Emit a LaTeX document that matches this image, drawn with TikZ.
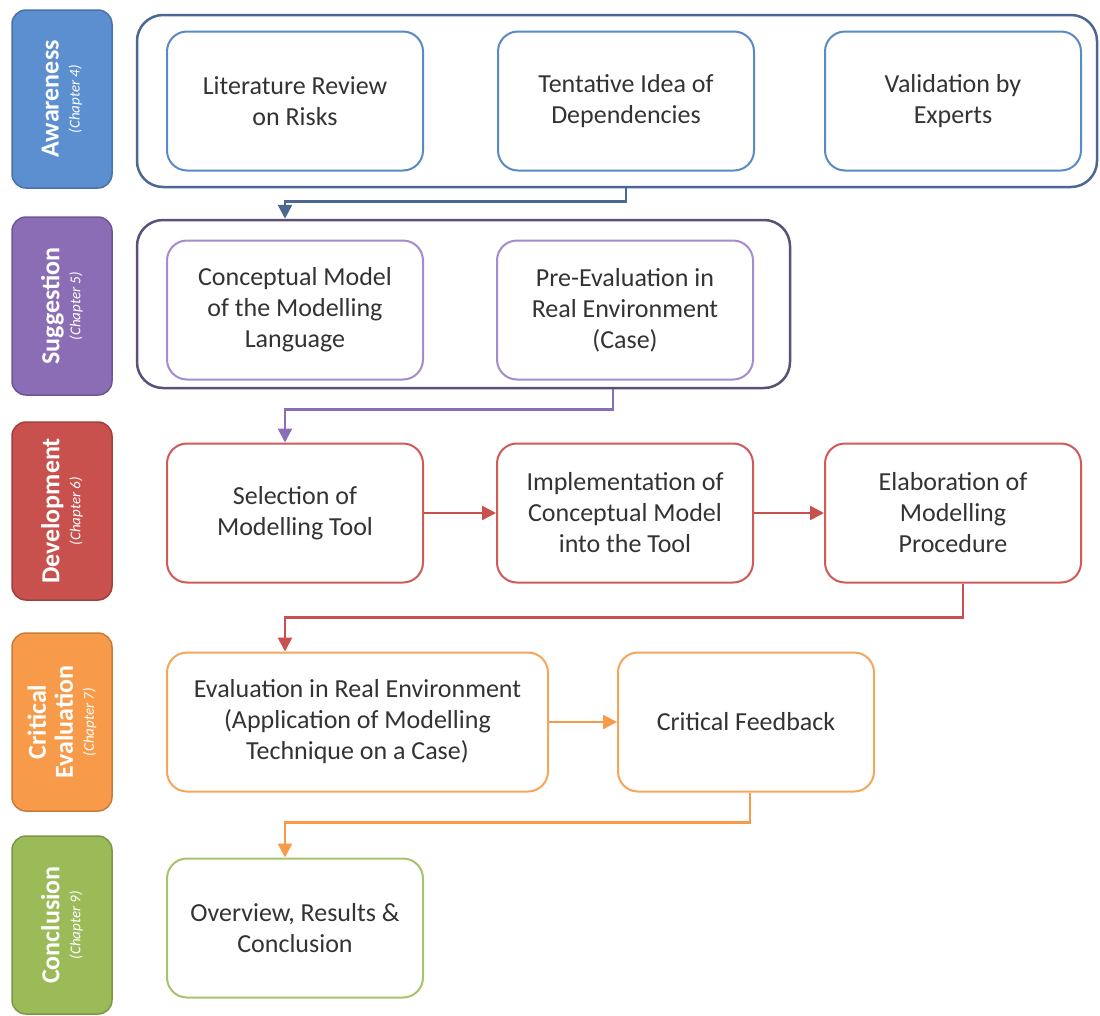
\documentclass[tikz,border=0pt]{standalone}
\usepackage{fontspec}
\setmainfont{Carlito}
\usetikzlibrary{arrows.meta}

\definecolor{awfill}{HTML}{5B8FD0}
\definecolor{awline}{HTML}{5A8AC6}
\definecolor{awgroup}{HTML}{4A6890}
\definecolor{sgfill}{HTML}{8A6DB5}
\definecolor{sgline}{HTML}{A58BD0}
\definecolor{sggroup}{HTML}{5D5078}
\definecolor{dvfill}{HTML}{C8504D}
\definecolor{dvline}{HTML}{CF5A57}
\definecolor{cefill}{HTML}{F79A4A}
\definecolor{celine}{HTML}{F5A65B}
\definecolor{cofill}{HTML}{9BBB59}
\definecolor{coline}{HTML}{A5C46A}
\definecolor{textgray}{HTML}{333333}

\newcommand{\chapfont}{\fontsize{15}{17}\selectfont\mdseries\itshape}

\tikzset{
  phase/.style={fill=#1, draw=#1!80!black, line width=1.5pt, rounded corners=14pt,
    minimum width=178pt, minimum height=100pt, rotate=90, text=white, align=center,
    font=\fontsize{26}{27}\selectfont\bfseries},
  task/.style={draw=#1, line width=2pt, rounded corners=20pt, fill=white,
    minimum width=256pt, minimum height=139pt, align=center, text=textgray,
    font=\fontsize{26}{31}\selectfont},
  group/.style={draw=#1, line width=2.5pt, rounded corners=26pt},
  flow/.style={draw=#1, line width=2.5pt, -{Triangle[length=14pt,width=14pt]}}
}

\begin{document}
\begin{tikzpicture}[x=1pt, y=-1pt]
	\useasboundingbox (0,0) rectangle (1100,1015);
	% phase labels
	\node[phase=awfill] (aware) at (62,99) {Awareness\\[-6pt]{\chapfont(Chapter 4)}};
	\node[phase=sgfill] (sugg) at (62,306) {Suggestion\\[-6pt]{\chapfont(Chapter 5)}};
	\node[phase=dvfill] (devel) at (62,511) {Development\\[-6pt]{\chapfont(Chapter 6)}};
	\node[phase=cefill] (crit) at (62,722) {Critical\\Evaluation\\[-6pt]{\chapfont(Chapter 7)}};
	\node[phase=cofill] (concl) at (62,925) {Conclusion\\[-6pt]{\chapfont(Chapter 9)}};
	% groups
	\node[group=awgroup, minimum width=960pt, minimum height=172pt] (awg) at (617,101) {};
	\node[group=sggroup, minimum width=653pt, minimum height=168pt] (sgg) at (463.5,304) {};
	% awareness
	\node[task=awline] (lit) at (295,101) {Literature Review\\on Risks};
	\node[task=awline] (tent) at (626,101) {Tentative Idea of\\Dependencies};
	\node[task=awline] (val) at (953,101) {Validation by\\Experts};
	% suggestion
	\node[task=sgline] (cmod) at (295,310) {Conceptual Model\\of the Modelling\\Language};
	\node[task=sgline] (pre) at (625,310) {Pre-Evaluation in\\Real Environment\\(Case)};
	% development
	\node[task=dvline] (sel) at (295,513) {Selection of\\Modelling Tool};
	\node[task=dvline] (impl) at (625,513) {Implementation of\\Conceptual Model\\into the Tool};
	\node[task=dvline] (elab) at (953,513) {Elaboration of\\Modelling\\Procedure};
	% critical evaluation
	\node[task=celine, minimum width=381pt] (eval) at (357.5,722) {Evaluation in Real Environment\\(Application of Modelling\\Technique on a Case)};
	\node[task=celine] (cf) at (746,722) {Critical Feedback};
	% conclusion
	\node[task=coline] (ov) at (295,928) {Overview, Results \&\\Conclusion};

	% flow between phases
	\draw[flow=awgroup] (tent |- awg.south) -- ++(0,13) -| ([xshift=-10pt]lit.south |- sgg.north);
	\draw[flow=sgfill] ([xshift=-12pt]pre.south |- sgg.south) -- ++(0,20) -| ([xshift=-10pt]sel.north);
	\draw[flow=dvfill] ([xshift=10pt]elab.south) -- ++(0,34) -| ([xshift=-10pt]eval.north -| sel);
	\draw[flow=dvfill] (sel) -- (impl);
	\draw[flow=dvfill] (impl) -- (elab);
	\draw[flow=cefill] (eval) -- (cf);
	\draw[flow=cefill] ([xshift=4pt]cf.south) -- ++(0,30) -| ([xshift=-10pt]ov.north);
\end{tikzpicture}
\end{document}
